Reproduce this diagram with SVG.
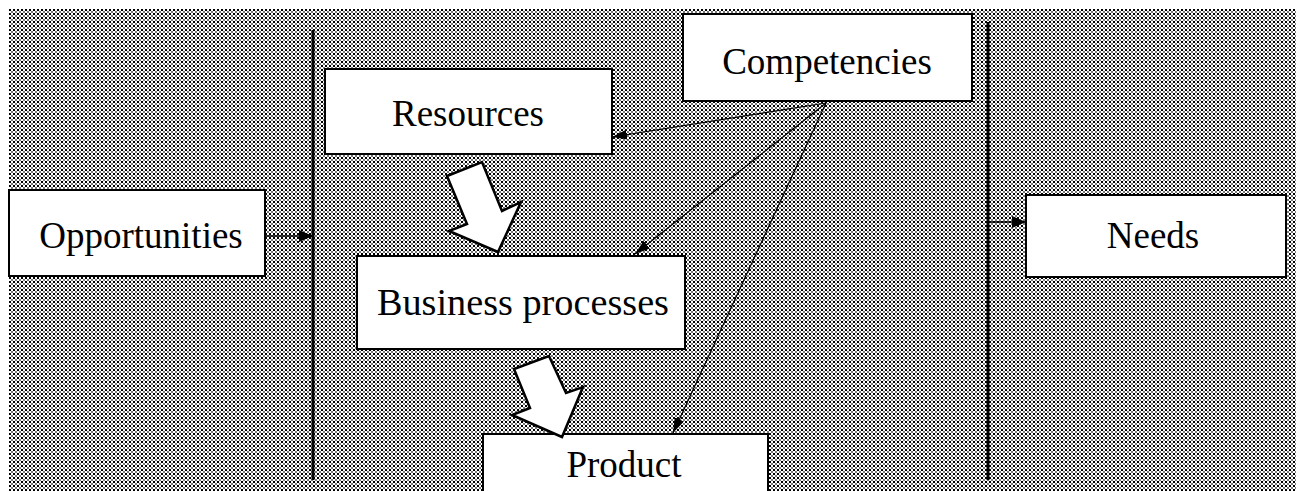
<svg xmlns="http://www.w3.org/2000/svg" width="1300" height="491" viewBox="0 0 1300 491">
<style>
.box{fill:#fff;stroke:#000;stroke-width:2}
.lbl{font-family:"Liberation Serif","Times New Roman",serif;font-size:37px;fill:#000;text-anchor:middle}
.thin{stroke:#000;stroke-width:1.2;fill:none}
.mid{stroke:#000;stroke-width:1.6;fill:none}
.wall{stroke:#000;stroke-width:3}
.blk{fill:#fff;stroke:#000;stroke-width:2.5;stroke-linejoin:miter}
</style>
<defs>
<pattern id="dots" x="9" y="9" width="4" height="4" patternUnits="userSpaceOnUse">
<rect width="4" height="4" fill="#fff"/>
<rect x="0" y="0" width="2" height="2" fill="#000"/>
<rect x="2" y="2" width="2" height="2" fill="#777"/>
</pattern>
<marker id="ah" markerUnits="userSpaceOnUse" markerWidth="16" markerHeight="12" refX="15" refY="5" orient="auto" viewBox="0 0 16 12">
<path d="M0,0 L15,5 L0,10 z" fill="#000"/>
</marker>
<marker id="ahb" markerUnits="userSpaceOnUse" markerWidth="16" markerHeight="14" refX="14" refY="6" orient="auto" viewBox="0 0 16 14">
<path d="M0,0 L14,6 L0,12 z" fill="#000"/>
</marker>
</defs>
<rect x="9" y="9" width="1287" height="482" fill="url(#dots)"/>
<g id="walls">
<line class="wall" x1="313" y1="30" x2="313" y2="480"/>
<line class="wall" x1="988" y1="22" x2="988" y2="480"/>
</g>
<g id="opportunities"><rect class="box" x="9" y="190" width="256" height="86"/><text class="lbl" x="141" y="248">Opportunities</text></g>
<g id="resources"><rect class="box" x="325" y="69" width="287" height="85"/><text class="lbl" x="468" y="126">Resources</text></g>
<g id="competencies"><rect class="box" x="683" y="14" width="289" height="87"/><text class="lbl" x="827" y="74">Competencies</text></g>
<g id="business"><rect class="box" x="357" y="256" width="328" height="93"/><text class="lbl" x="523" y="315" textLength="292" lengthAdjust="spacingAndGlyphs">Business processes</text></g>
<g id="product"><rect class="box" x="483" y="434" width="285" height="62"/><text class="lbl" x="624" y="477">Product</text></g>
<g id="needs"><rect class="box" x="1026" y="195" width="260" height="82"/><text class="lbl" x="1153" y="248">Needs</text></g>
<g id="connectors">
<line class="mid" x1="265" y1="236" x2="313" y2="236" marker-end="url(#ahb)"/>
<line class="mid" x1="988" y1="222" x2="1026" y2="222" marker-end="url(#ahb)"/>
<line class="thin" x1="826" y1="103" x2="612" y2="137" marker-end="url(#ah)"/>
<line class="thin" x1="826" y1="103" x2="635" y2="254" marker-end="url(#ah)"/>
<line class="thin" x1="826" y1="103" x2="673" y2="433" marker-end="url(#ah)"/>
<polygon class="blk" points="447,176 482,162 502,211 521,202 498,252 449,231 467,224"/>
<polygon class="blk" points="514,369 549,356 566,393 583,387 562,437 512,415 530,408"/>
</g>
</svg>
